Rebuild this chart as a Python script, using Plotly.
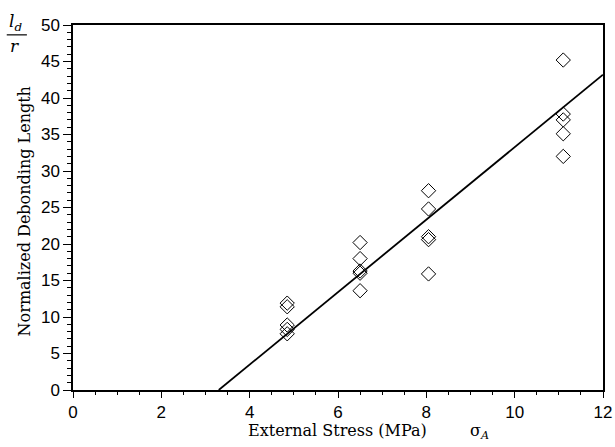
import plotly.graph_objects as go

# Data
stress_x = [4.85, 4.85, 4.85, 4.85, 4.85,
            6.5, 6.5, 6.5, 6.5, 6.5,
            8.05, 8.05, 8.05, 8.05, 8.05,
            11.1, 11.1, 11.1, 11.1, 11.1]
debond_y = [11.9, 11.4, 8.9, 8.3, 7.7,
            20.2, 18.0, 16.3, 16.0, 13.6,
            27.3, 24.8, 21.0, 20.6, 15.9,
            45.2, 37.8, 37.0, 35.1, 32.0]
fit_x = [3.3, 12.0]
fit_y = [0.0, 43.2]

x_ticks = [0, 2, 4, 6, 8, 10, 12]
y_ticks = [0, 5, 10, 15, 20, 25, 30, 35, 40, 45, 50]

serif = "DejaVu Serif, serif"
sans = "Liberation Sans, Arial, sans-serif"

fig = go.Figure()
fig.add_trace(go.Scatter(x=fit_x, y=fit_y, mode="lines",
                         line=dict(color="black", width=1.8), showlegend=False))
fig.add_trace(go.Scatter(x=stress_x, y=debond_y, mode="markers",
                         marker=dict(symbol="diamond-open", size=11,
                                     color="black", line=dict(width=1)),
                         showlegend=False))

axis_common = dict(showline=True, linecolor="black", linewidth=1.5, mirror=True,
                   showgrid=False, zeroline=False, ticks="outside",
                   tickcolor="black", tickfont=dict(family=sans, size=17, color="black"))

fig.update_xaxes(range=[0, 12], tickvals=x_ticks, ticklen=6,
                 minor=dict(dtick=0.5, ticks="outside", ticklen=3, tickcolor="black"),
                 **axis_common)
fig.update_yaxes(range=[0, 50], tickvals=y_ticks, ticklen=8,
                 minor=dict(dtick=1, ticks="outside", ticklen=4, tickcolor="black"),
                 **axis_common)

fig.update_layout(
    width=615, height=447,
    margin=dict(l=73, r=12, t=25, b=57, autoexpand=False),
    plot_bgcolor="white", paper_bgcolor="white",
    font=dict(family=serif, color="black"),
    annotations=[
        dict(text="External Stress (MPa)", xref="x", yref="paper", x=5.98, y=-0.11,
             showarrow=False, font=dict(family=serif, size=16), xanchor="center", yanchor="middle"),
        dict(text="σ<sub><i>A</i></sub>", xref="x", yref="paper", x=9.2, y=-0.115,
             showarrow=False, font=dict(family=serif, size=16), xanchor="center", yanchor="middle"),
        dict(text="Normalized Debonding Length", xref="paper", yref="paper", x=-0.092, y=0.49,
             textangle=-90, showarrow=False, font=dict(family=serif, size=16),
             xanchor="center", yanchor="middle"),
        dict(text="<i>l<sub>d</sub></i>", xref="paper", yref="paper", x=-0.109, y=1.008,
             showarrow=False, font=dict(family=serif, size=17), xanchor="center", yanchor="middle"),
        dict(text="<i>r</i>", xref="paper", yref="paper", x=-0.111, y=0.942,
             showarrow=False, font=dict(family=serif, size=17), xanchor="center", yanchor="middle"),
    ],
    shapes=[
        dict(type="line", xref="paper", yref="paper", x0=-0.125, x1=-0.087, y0=0.973, y1=0.973,
             line=dict(color="black", width=1.2)),
    ],
)

fig.write_html("out.html")
